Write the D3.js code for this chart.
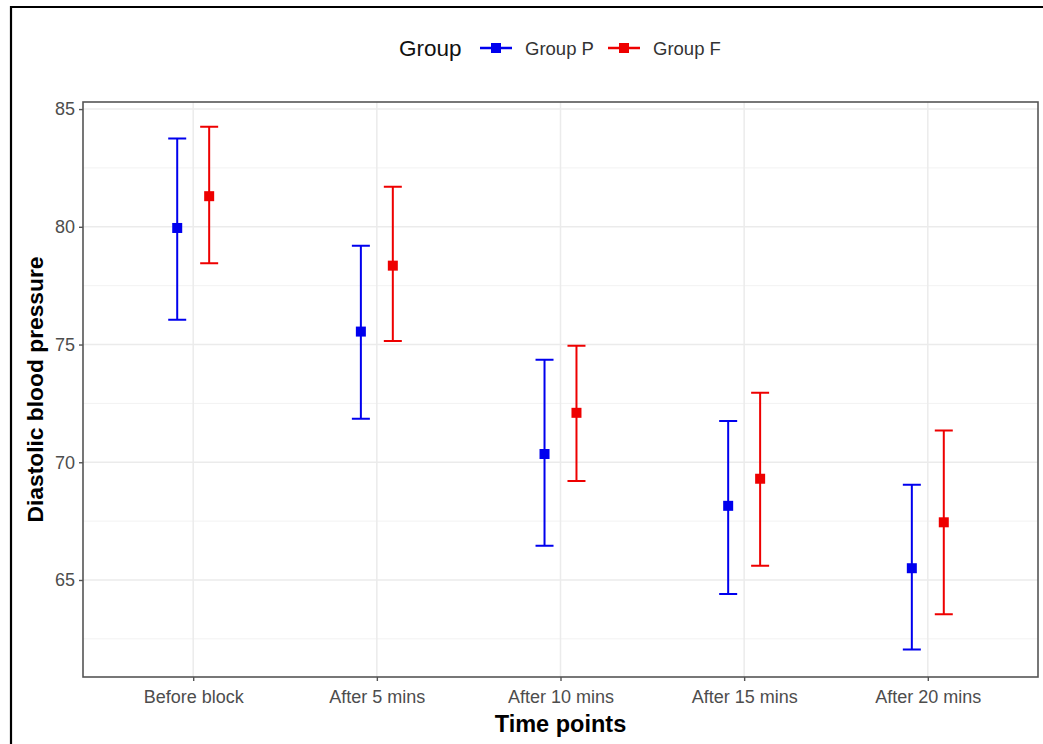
<!DOCTYPE html>
<html>
<head>
<meta charset="utf-8">
<script src="https://cdn.jsdelivr.net/npm/d3@7"></script>
<style>
  body { margin: 0; background: #fff; }
  svg { display: block; font-family: 'Liberation Sans', Arial, sans-serif; }
</style>
</head>
<body>
<div id="chart"></div>
<script>
const timePoints = ['Before block', 'After 5 mins', 'After 10 mins', 'After 15 mins', 'After 20 mins']
const groups = ['Group P', 'Group F']
const colors = ['#0000ee', '#ee0000']

// mean, lower and upper bound per time point
const meanP = [79.95, 75.55, 70.35, 68.15, 65.5]
const lowP = [76.05, 71.85, 66.45, 64.4, 62.05]
const highP = [83.75, 79.2, 74.35, 71.75, 69.05]
const meanF = [81.3, 78.35, 72.1, 69.3, 67.45]
const lowF = [78.45, 75.15, 69.2, 65.6, 63.55]
const highF = [84.25, 81.7, 74.95, 72.95, 71.35]

const yTicks = [65, 70, 75, 80, 85]
const yMinor = [62.5, 67.5, 72.5, 77.5, 82.5]

const width = 1043
const height = 744
const panel = { left: 83, top: 102, right: 1038, bottom: 677 }

const svg = d3.select('#chart').append('svg')
    .attr('width', width).attr('height', height)

// outer frame (only top and left edges visible)
svg.append('path')
    .attr('d', `M11,${height} L11,7 L${width},7`)
    .attr('fill', 'none').attr('stroke', '#000').attr('stroke-width', 2.2)

const x = d3.scalePoint()
    .domain(timePoints)
    .range([panel.left, panel.right])
    .padding(0.6)
const step = x.step()
const dodge = d3.scaleOrdinal().domain(groups).range([-0.087 * step, 0.087 * step])

const y = d3.scaleLinear()
    .domain([60.88, 85.3])
    .range([panel.bottom, panel.top])

const grid = svg.append('g')
grid.selectAll('.minor')
    .data(yMinor)
    .join('line').attr('class', 'minor')
    .attr('x1', panel.left).attr('x2', panel.right)
    .attr('y1', d => y(d)).attr('y2', d => y(d))
    .attr('stroke', '#f2f2f2').attr('stroke-width', 1)
grid.selectAll('.major')
    .data(yTicks)
    .join('line').attr('class', 'major')
    .attr('x1', panel.left).attr('x2', panel.right)
    .attr('y1', d => y(d)).attr('y2', d => y(d))
    .attr('stroke', '#ebebeb').attr('stroke-width', 1.5)
grid.selectAll('.vert')
    .data(timePoints)
    .join('line').attr('class', 'vert')
    .attr('x1', d => x(d)).attr('x2', d => x(d))
    .attr('y1', panel.top).attr('y2', panel.bottom)
    .attr('stroke', '#ebebeb').attr('stroke-width', 1.5)

// data rows
const series = [
    { group: 'Group P', mean: meanP, low: lowP, high: highP },
    { group: 'Group F', mean: meanF, low: lowF, high: highF }
]
const rows = []
series.forEach((s, si) => {
    timePoints.forEach((t, i) => {
        rows.push({ t: t, group: s.group, color: colors[si], mean: s.mean[i], low: s.low[i], high: s.high[i] })
    })
})
const cx = d => x(d.t) + dodge(d.group)
const capHalf = 9

const marks = svg.append('g')
marks.selectAll('.bar')
    .data(rows)
    .join('path').attr('class', 'bar')
    .attr('d', d => `M${cx(d) - capHalf},${y(d.high)} h${capHalf * 2} M${cx(d)},${y(d.high)} V${y(d.low)} M${cx(d) - capHalf},${y(d.low)} h${capHalf * 2}`)
    .attr('fill', 'none')
    .attr('stroke', d => d.color).attr('stroke-width', 2)
marks.selectAll('.pt')
    .data(rows)
    .join('rect').attr('class', 'pt')
    .attr('x', d => cx(d) - 5).attr('y', d => y(d.mean) - 5)
    .attr('width', 10).attr('height', 10)
    .attr('fill', d => d.color)

// panel border
svg.append('rect')
    .attr('x', panel.left).attr('y', panel.top)
    .attr('width', panel.right - panel.left).attr('height', panel.bottom - panel.top)
    .attr('fill', 'none').attr('stroke', '#555').attr('stroke-width', 1.6)

// axes
const yAxis = svg.append('g')
    .attr('transform', `translate(${panel.left},0)`)
    .call(d3.axisLeft(y).tickValues(yTicks).tickSize(4).tickPadding(4))
const xAxis = svg.append('g')
    .attr('transform', `translate(0,${panel.bottom})`)
    .call(d3.axisBottom(x).tickSize(4).tickPadding(9))
;[yAxis, xAxis].forEach(a => {
    a.select('.domain').remove()
    a.selectAll('.tick line').attr('stroke', '#555').attr('stroke-width', 1.4)
    a.selectAll('.tick text').attr('fill', '#4d4d4d').style('font-size', '18px')
        .style('font-family', "'Liberation Sans', Arial, sans-serif")
})

svg.append('text')
    .attr('x', (panel.left + panel.right) / 2).attr('y', 732)
    .attr('text-anchor', 'middle')
    .style('font-size', '23.5px').style('font-weight', 'bold')
    .text('Time points')
svg.append('text')
    .attr('transform', `translate(43,${(panel.top + panel.bottom) / 2}) rotate(-90)`)
    .attr('text-anchor', 'middle')
    .style('font-size', '22.8px').style('font-weight', 'bold')
    .text('Diastolic blood pressure')

// legend
const legend = svg.append('g').attr('transform', 'translate(0,48)')
legend.append('text')
    .attr('x', 399).attr('y', 8)
    .style('font-size', '22.5px').attr('fill', '#111')
    .text('Group')
const legendX = [480, 608]
groups.forEach((g, i) => {
    const k = legend.append('g').attr('transform', `translate(${legendX[i]},0)`)
    k.append('line').attr('x1', 0).attr('x2', 32)
        .attr('stroke', colors[i]).attr('stroke-width', 2.5)
    k.append('rect').attr('x', 11).attr('y', -5).attr('width', 10).attr('height', 10)
        .attr('fill', colors[i])
    k.append('text').attr('x', 45).attr('y', 6.5)
        .style('font-size', '18.5px').attr('fill', '#333')
        .text(g)
})
</script>
</body>
</html>
